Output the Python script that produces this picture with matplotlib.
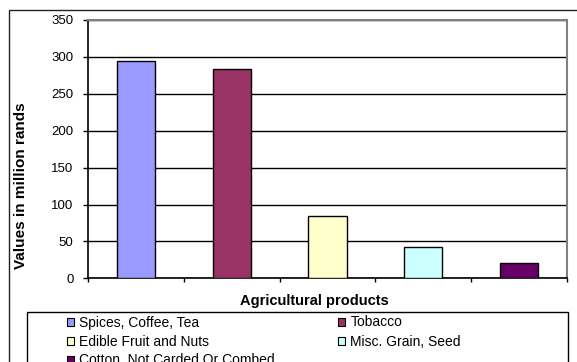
import matplotlib
matplotlib.use("Agg")
import matplotlib.pyplot as plt
from matplotlib.patches import Rectangle, Patch

plt.rcParams['font.family'] = ['Liberation Sans', 'DejaVu Sans']

categories = ["Spices, Coffee, Tea", "Tobacco", "Edible Fruit and Nuts",
              "Misc. Grain, Seed", "Cotton, Not Carded Or Combed"]
values = [294, 284, 85, 42, 21]
colors = ["#9999FF", "#993366", "#FFFFCC", "#CCFFFF", "#660066"]
yticks = [0, 50, 100, 150, 200, 250, 300, 350]

W, H = 577, 362
fig = plt.figure(figsize=(W / 100, H / 100), dpi=100)

# outer chart border
fig.add_artist(Rectangle((9 / W, -0.05), 1.2, 1 - 10 / H + 0.05, transform=fig.transFigure,
                         fill=False, edgecolor="#222222", linewidth=1.0))

ax = fig.add_axes([88.3 / W, 1 - 278.3 / H, (566.7 - 88.3) / W, (278.3 - 20) / H])
x = list(range(len(categories)))
ax.bar(x, values, width=0.40, color=colors, edgecolor="black", linewidth=1.0, zorder=3)
ax.set_xlim(-0.5, len(categories) - 0.5)
ax.set_ylim(0, 350)
ax.set_yticks(yticks)
ax.set_yticklabels([str(v) for v in yticks], fontsize=9.5)
ax.set_xticks([i - 0.5 for i in range(len(categories) + 1)])
ax.set_xticklabels([])
ax.tick_params(axis='y', direction='out', length=3.6, width=1, pad=7)
ax.tick_params(axis='x', direction='out', length=3, width=1)
ax.grid(axis='y', color='black', linewidth=1.0, zorder=0)
ax.set_axisbelow(True)
for s in ['left', 'bottom']:
    ax.spines[s].set_color('black')
    ax.spines[s].set_linewidth(1.2)
for s in ['top', 'right']:
    ax.spines[s].set_color('#808080')
    ax.spines[s].set_linewidth(1.5)

ax.set_ylabel("Values in million rands", fontsize=11, fontweight='bold')
ax.yaxis.set_label_coords(-0.126, 0.357)
ax.set_xlabel("Agricultural products", fontsize=10.5, fontweight='bold')
ax.xaxis.set_label_coords(0.472, -0.062)

# legend box
fig.add_artist(Rectangle((27 / W, -0.05), (568 - 27) / W, (1 - 311.7 / H) + 0.05,
                         transform=fig.transFigure, fill=False, edgecolor="black", linewidth=1.0))
handles = [Patch(facecolor=c, edgecolor='black', linewidth=0.8) for c in colors]
order = [0, 2, 4, 1, 3]
leg = fig.legend([handles[i] for i in order], [categories[i] for i in order],
                 ncol=2, loc='upper left', bbox_to_anchor=(67 / W, 1 - 315.5 / H),
                 frameon=False, fontsize=10, handlelength=0.5, handleheight=0.5,
                 handletextpad=0.36, labelspacing=0.36, columnspacing=4.6,
                 borderaxespad=0, borderpad=0)

fig.savefig("out.png", dpi=100)
